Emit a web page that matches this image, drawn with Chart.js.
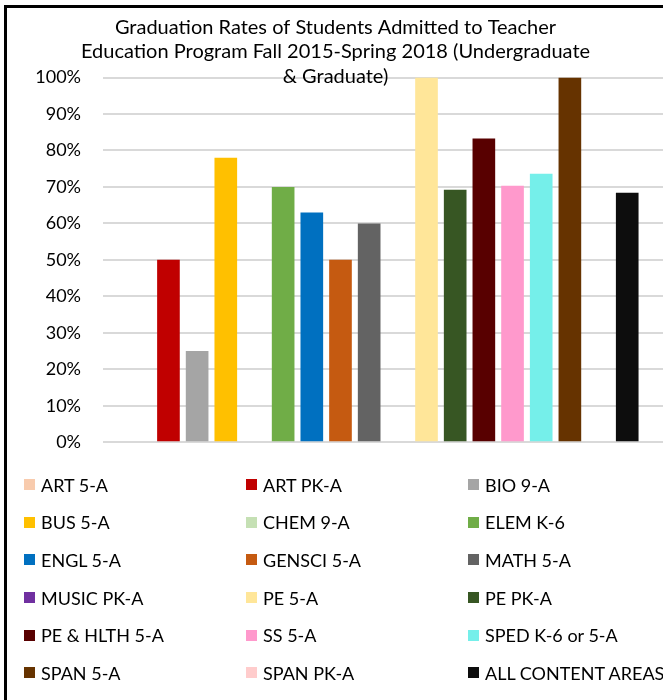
<!DOCTYPE html>
<html>
<head>
<meta charset="utf-8">
<script src="https://cdn.jsdelivr.net/npm/chart.js@4/dist/chart.umd.min.js"></script>
<style>
    body { margin: 0; background: #fff; overflow: hidden; width: 663px; height: 700px; position: relative; }
    #frame { position: absolute; left: 4px; top: 5px; width: 700px; height: 720px; border: 3px solid #000; }
    #gradChart { position: absolute; left: 7px; top: 8px; }
    #legend { position: absolute; left: 24px; top: 466px; display: grid; grid-template-columns: 222px 222px 222px; grid-auto-rows: 37.6px; font-family: Lato, sans-serif; font-size: 18px; color: #000; }
    .item { display: flex; align-items: center; white-space: nowrap; }
    .box { width: 11px; height: 11px; margin-right: 6px; flex: none; }
</style>
</head>
<body>
<div id="frame"></div>
<canvas id="gradChart" width="686" height="467"></canvas>
<div id="legend"></div>
<script>
// Content areas (one series each) and their graduation rates
const programs = ['ART 5-A', 'ART PK-A', 'BIO 9-A', 'BUS 5-A', 'CHEM 9-A', 'ELEM K-6',
    'ENGL 5-A', 'GENSCI 5-A', 'MATH 5-A', 'MUSIC PK-A', 'PE 5-A', 'PE PK-A',
    'PE & HLTH 5-A', 'SS 5-A', 'SPED K-6 or 5-A', 'SPAN 5-A', 'SPAN PK-A', 'ALL CONTENT AREAS'];
const rates = [0, 0.50, 0.25, 0.78, 0, 0.70, 0.63, 0.50, 0.60, 0, 1.00, 0.692,
    0.833, 0.703, 0.736, 1.00, 0, 0.684];
const colors = ['#F8CBAD', '#C00000', '#A5A5A5', '#FFC000', '#C5E0B4', '#70AD47',
    '#0070C0', '#C55A11', '#636363', '#7030A0', '#FFE699', '#375623',
    '#580000', '#FF99CC', '#75EFEA', '#663300', '#FFCCCC', '#0D0D0D'];
const yTicks = [0, 0.1, 0.2, 0.3, 0.4, 0.5, 0.6, 0.7, 0.8, 0.9, 1];
const titleLines = ['Graduation Rates of Students Admitted to Teacher',
    'Education Program Fall 2015-Spring 2018 (Undergraduate', '& Graduate)'];

let gradChart;

const createGradChart = () => {
    const ctx = document.getElementById('gradChart').getContext('2d');
    // one dataset per program, all in a single category
    const datasets = programs.map((p, i) => ({
        label: p,
        data: [rates[i]],
        backgroundColor: colors[i],
        borderWidth: 0
    }));
    gradChart = new Chart(ctx, {
        type: 'bar',
        data: { labels: [''], datasets: datasets },
        options: {
            responsive: false,
            animation: false,
            categoryPercentage: 0.92,
            barPercentage: 0.79,
            layout: { padding: { left: 0, right: 29, top: 0, bottom: 11 } },
            plugins: {
                legend: { display: false },
                tooltip: { enabled: false },
                title: {
                    display: true,
                    text: titleLines,
                    color: '#000',
                    font: { family: 'Lato', size: 20, weight: 'normal', lineHeight: 1.225 },
                    padding: { top: 7, bottom: -11 }
                }
            },
            scales: {
                x: { display: false },
                y: {
                    min: 0,
                    max: 1,
                    afterFit: (s) => { s.width = 96; },
                    afterBuildTicks: (s) => { s.ticks = yTicks.map(v => ({ value: v })); },
                    border: { display: false },
                    grid: { color: '#D9D9D9', lineWidth: 2, drawTicks: false },
                    ticks: {
                        padding: 22,
                        color: '#000',
                        font: { family: 'Lato', size: 18 },
                        callback: (v) => Math.round(v * 100) + '%'
                    }
                }
            }
        }
    });
}

// Legend in three columns, built from the chart datasets
const buildLegend = () => {
    const el = document.getElementById('legend');
    gradChart.data.datasets.forEach(ds => {
        const item = document.createElement('div');
        item.className = 'item';
        item.innerHTML = '<span class="box" style="background:' + ds.backgroundColor + '"></span>';
        const txt = document.createElement('span');
        txt.textContent = ds.label;
        item.appendChild(txt);
        el.appendChild(item);
    });
}

createGradChart();
buildLegend();
</script>
</body>
</html>
